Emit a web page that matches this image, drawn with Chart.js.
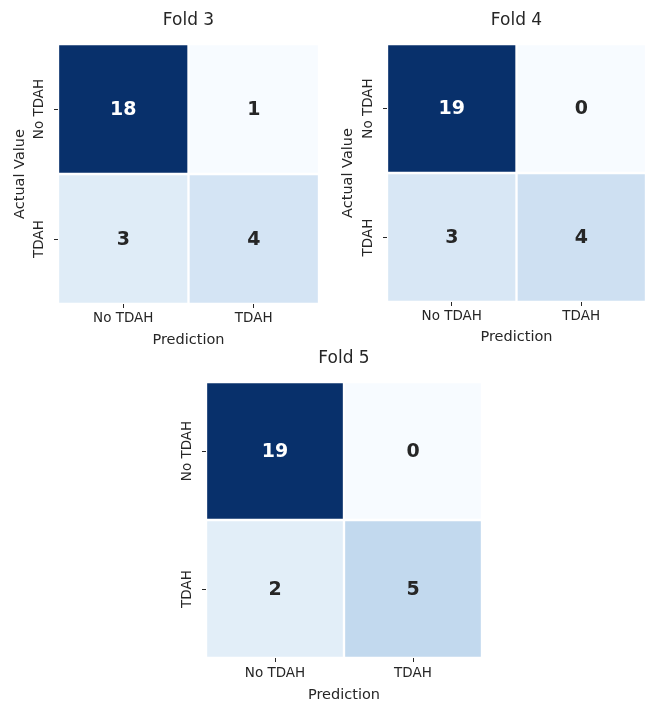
<!DOCTYPE html>
<html>
<head>
<meta charset="utf-8">
<title>Confusion matrices</title>
<script src="https://cdn.jsdelivr.net/npm/chart.js@4.4.1/dist/chart.umd.min.js"></script>
<style>
  body { margin: 0; background: #ffffff; }
  #wrap { position: relative; width: 650px; height: 704px; overflow: hidden; }
  canvas { position: absolute; }
</style>
</head>
<body>
<div id="wrap">
  <canvas id="fold3" width="325" height="352" style="left:0px;top:0px"></canvas>
  <canvas id="fold4" width="322" height="352" style="left:328px;top:0px"></canvas>
  <canvas id="fold5" width="340" height="366" style="left:148px;top:338px"></canvas>
</div>
<script>
// Confusion matrices per fold: rows = actual, columns = prediction
const predLabels = ['No TDAH', 'TDAH'];
const actualLabels = ['No TDAH', 'TDAH'];
const fold3 = [[18, 1], [3, 4]];
const fold4 = [[19, 0], [3, 4]];
const fold5 = [[19, 0], [2, 5]];

const FONT = 'DejaVu Sans';
const INK = '#262626';

// matplotlib "Blues"
const blues = ['#f7fbff', '#deebf7', '#c6dbef', '#9ecae1', '#6baed6',
               '#4292c6', '#2171b5', '#08519c', '#08306b'];

function hexToRgb(h) {
    const n = parseInt(h.slice(1), 16);
    return [(n >> 16) & 255, (n >> 8) & 255, n & 255];
}

function bluesColor(t) {
    t = Math.min(1, Math.max(0, t));
    const pos = t * (blues.length - 1);
    const i = Math.min(Math.floor(pos), blues.length - 2);
    const f = pos - i;
    const a = hexToRgb(blues[i]);
    const b = hexToRgb(blues[i + 1]);
    const c = a.map((v, k) => Math.round(v + (b[k] - v) * f));
    return `rgb(${c[0]}, ${c[1]}, ${c[2]})`;
}

// width of the widest y label, needed to centre the rotated tick text
const mctx = document.createElement('canvas').getContext('2d');
mctx.font = `13.5px "${FONT}"`;
const widest = Math.max(...actualLabels.map(s => mctx.measureText(s).width));

// writes the counts into the cells and the title above the matrix
const cellText = {
    id: 'cellText',
    afterDatasetsDraw(chart, args, opts) {
        const ctx = chart.ctx;
        ctx.save();
        ctx.font = `bold 19px "${FONT}"`;
        ctx.textAlign = 'center';
        ctx.textBaseline = 'middle';
        chart.data.datasets.forEach((ds, di) => {
            chart.getDatasetMeta(di).data.forEach((bar, j) => {
                const c = bar.getCenterPoint();
                ctx.fillStyle = ds.textColors[j];
                ctx.fillText(String(ds.counts[j]), c.x, c.y + 1);
            });
        });
        const a = chart.chartArea;
        ctx.font = `17px "${FONT}"`;
        ctx.fillStyle = INK;
        ctx.fillText(opts.title, (a.left + a.right) / 2, opts.titleY);
        ctx.restore();
    }
};

function makeHeatmap(id, title, counts, lay) {
    const flat = counts.flat();
    const vmin = Math.min(...flat);
    const vmax = Math.max(...flat);
    const norm = v => (v - vmin) / (vmax - vmin);

    // bottom row (actual TDAH) first so it stacks underneath
    const datasets = [1, 0].map(r => ({
        label: actualLabels[r],
        data: predLabels.map(() => 1),
        counts: counts[r],
        backgroundColor: counts[r].map(v => bluesColor(norm(v))),
        textColors: counts[r].map(v => norm(v) > 0.6 ? '#ffffff' : INK),
        borderColor: '#ffffff',
        borderWidth: 1.5,
        borderSkipped: false,
        barPercentage: 1,
        categoryPercentage: 1
    }));

    const tickFont = { family: FONT, size: 13.5 };
    const titleFont = { family: FONT, size: 14.5 };

    return new Chart(document.getElementById(id), {
        type: 'bar',
        data: { labels: predLabels, datasets: datasets },
        options: {
            responsive: false,
            animation: false,
            layout: { padding: { left: 0, right: lay.right, top: 44, bottom: 0 } },
            plugins: {
                legend: { display: false },
                tooltip: { enabled: false },
                cellText: { title: title, titleY: lay.titleY }
            },
            scales: {
                x: {
                    stacked: true,
                    grid: { display: true, drawOnChartArea: false, offset: false, tickLength: 4, color: INK, tickWidth: 1 },
                    border: { display: false },
                    ticks: { color: INK, font: tickFont, padding: lay.xTickPad, maxRotation: 0 },
                    title: { display: true, text: 'Prediction', color: INK, font: titleFont, padding: { top: 0, bottom: lay.xTitlePad } },
                    afterFit: s => { s.height = lay.xAxisH; }
                },
                y: {
                    stacked: true,
                    min: 0,
                    max: 2,
                    afterBuildTicks: s => { s.ticks = [{ value: 0.5 }, { value: 1.5 }]; },
                    grid: { display: true, drawOnChartArea: false, tickLength: 4, color: INK, tickWidth: 1 },
                    border: { display: false },
                    ticks: {
                        color: INK,
                        font: tickFont,
                        minRotation: 90,
                        maxRotation: 90,
                        crossAlign: 'center',
                        padding: 14.5 - widest / 2,
                        callback: v => v > 1 ? actualLabels[0] : actualLabels[1]
                    },
                    title: { display: lay.yTitle, text: 'Actual Value', color: INK, font: titleFont, padding: { top: 11.8, bottom: 0 } },
                    afterFit: s => { s.width = lay.yAxisW; }
                }
            }
        },
        plugins: [cellText]
    });
}

makeHeatmap('fold3', 'Fold 3', fold3, { right: 6, yAxisW: 58, xAxisH: 48, xTickPad: 2.5, xTitlePad: 3.3, titleY: 21, yTitle: true });
makeHeatmap('fold4', 'Fold 4', fold4, { right: 4, yAxisW: 59, xAxisH: 50, xTickPad: 2, xTitlePad: 6.3, titleY: 21, yTitle: true });
makeHeatmap('fold5', 'Fold 5', fold5, { right: 6, yAxisW: 58, xAxisH: 46, xTickPad: 3.5, xTitlePad: 0.3, titleY: 21, yTitle: false });
</script>
</body>
</html>
